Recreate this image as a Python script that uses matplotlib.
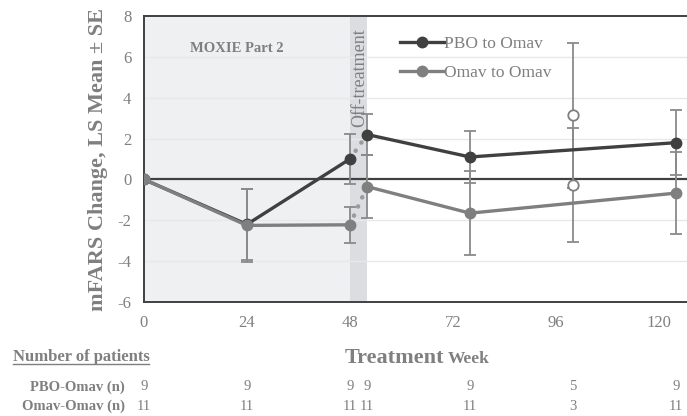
import numpy as np
import matplotlib.pyplot as plt
import matplotlib.transforms as mtransforms

plt.rcParams['font.family'] = ['Liberation Serif', 'DejaVu Serif']
plt.rcParams['axes.unicode_minus'] = False

# visit weeks (48 = end of part 2, 52 = after off-treatment window)
weeks = [0, 24, 48, 52, 76, 100, 124]

pbo_mean = [0.0, -2.2, 1.0, 2.2, 1.1, -0.27, 1.8]
pbo_se = [0.0, 1.75, 1.23, 1.0, 1.25, 2.78, 1.6]
omav_mean = [0.0, -2.25, -2.22, -0.35, -1.65, 3.15, -0.67]
omav_se = [0.0, 1.8, 0.88, 1.55, 2.05, 3.55, 2.0]

pbo_n = [9, 9, 9, 9, 9, 5, 9]
omav_n = [11, 11, 11, 11, 11, 3, 11]

xtick_vals = [0, 24, 48, 72, 96, 120]
ytick_vals = [-6, -4, -2, 0, 2, 4, 6, 8]

dark = '#404040'
mid = '#7f7f7f'
ebar = '#8a8a8a'
txt = '#7f7f7f'

fig = plt.figure(figsize=(6.87, 4.16), dpi=100)
ax = fig.add_axes([0.2096, 0.274, 0.7904, 0.6875])
ax.set_xlim(0, 126.6)
ax.set_ylim(-6, 8)

# shaded periods
ax.axvspan(0, 48, color='#eff0f2', zorder=0, lw=0)
ax.axvspan(48, 52, color='#dcdde0', zorder=0, lw=0)
for yv in [-4, -2, 2, 4, 6]:
    ax.axhline(yv, color='#e8e8e8', lw=1, zorder=0.5)
ax.axhline(0, color=dark, lw=1.6, zorder=1)

w = np.array(weeks, dtype=float)
series = [(pbo_mean, pbo_se, dark, 'PBO to Omav'),
          (omav_mean, omav_se, mid, 'Omav to Omav')]

# error bars first so lines sit on top
for mean, se, col, lab in series:
    m = np.array(mean)
    s = np.array(se)
    idx = [1, 2, 3, 4, 5, 6]
    ax.errorbar(w[idx], m[idx], yerr=s[idx], fmt='none', ecolor=ebar,
                elinewidth=1.3, capsize=4, capthick=1.3, zorder=2)

for mean, se, col, lab in series:
    m = np.array(mean)
    a = [0, 1, 2]
    b = [3, 4, 6]
    ax.plot(w[a], m[a], '-o', color=col, lw=2.4, ms=7.5, zorder=3,
            label=lab)
    ax.plot(w[b], m[b], '-o', color=col, lw=2.4, ms=7.5, zorder=3)
    ax.plot(w[[2, 3]], m[[2, 3]], linestyle=(0, (0.05, 2.2)), color='#9a9a9a',
            lw=3.2, dash_capstyle='round', zorder=2.5)
    # week 100 shown separately (small n)
    ax.plot(w[5], m[5], 'o', mfc='white', mec=mid, mew=1.3, ms=7.5,
            zorder=4)

ax.set_xticks(xtick_vals)
ax.set_yticks(ytick_vals)
ax.tick_params(length=0, labelsize=12, labelcolor=txt, pad=9)
for sp in ['left', 'top', 'bottom']:
    ax.spines[sp].set_color(dark)
    ax.spines[sp].set_linewidth(1.4)
ax.spines['right'].set_visible(False)

ax.set_ylabel('mFARS Change, LS Mean \u00b1 SE', fontsize=16, fontweight='bold',
              color=txt, labelpad=7)

ax.text(10.7, 6.4, 'MOXIE Part 2', fontsize=10.5, fontweight='bold', color=txt,
        va='center')
ax.text(50.2, 5.0, 'Off-treatment', rotation=90, fontsize=13, color=txt,
        ha='center', va='center')

leg = ax.legend(loc='upper left', bbox_to_anchor=(0.443, 0.985), frameon=False,
                fontsize=12.5, handlelength=2.5, handletextpad=0.05,
                labelspacing=0.75, labelcolor=txt)

# patient numbers under the axis
tr = mtransforms.blended_transform_factory(ax.transData, fig.transFigure)
fig.text(0.646, 0.128, 'Treatment', fontsize=16, fontweight='bold', color=txt,
         ha='right', va='baseline')
fig.text(0.652, 0.128, 'Week', fontsize=12.5, fontweight='bold', color=txt,
         ha='left', va='baseline')
fig.text(0.019, 0.132, 'Number of patients', fontsize=12, fontweight='bold',
         color=txt, va='baseline')
fig.add_artist(plt.Line2D([0.019, 0.217], [0.124, 0.124], color=txt, lw=1))
fig.text(0.182, 0.07, 'PBO-Omav (n)', fontsize=10.5, fontweight='bold', color=txt,
         ha='right', va='center')
fig.text(0.182, 0.024, 'Omav-Omav (n)', fontsize=10.5, fontweight='bold', color=txt,
         ha='right', va='center')
for wk, n1, n2 in zip(weeks, pbo_n, omav_n):
    ax.text(wk, 0.07, str(n1), transform=tr, fontsize=10.5, color=txt,
            ha='center', va='center', clip_on=False)
    ax.text(wk, 0.024, str(n2), transform=tr, fontsize=10.5, color=txt,
            ha='center', va='center', clip_on=False)

fig.savefig('out.png', dpi=100)
